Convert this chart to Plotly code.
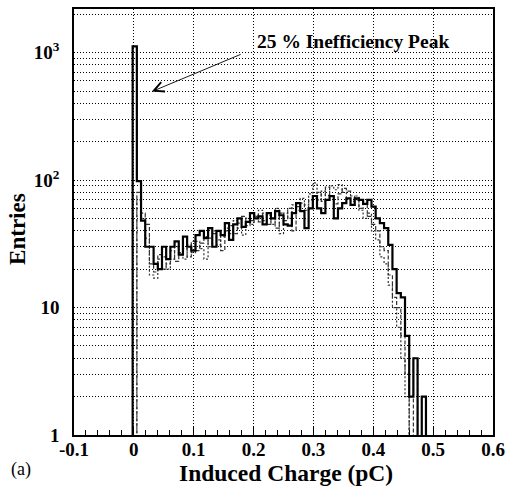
import numpy as np
import plotly.graph_objects as go

# ---- data (bin contents) ----
x_min, x_max, n_bins = -0.1, 0.6, 100
first_bin_solid = 14
solid = [1120, 98, 48, 30, 30, 22, 20, 30, 24, 30, 33, 26, 36, 30, 28, 37, 40, 35, 42, 30,
         40, 37, 46, 34, 45, 50, 43, 47, 55, 50, 52, 45, 55, 50, 57, 53, 45, 44, 55, 66,
         57, 42, 60, 75, 60, 55, 70, 75, 50, 60, 66, 72, 64, 72, 70, 65, 70, 62, 50, 46,
         42, 31, 20, 13, 12, 6, 2, 4, 0, 2]
first_bin_dashed = 15
dashed = [80, 55, 45, 22, 19, 26, 20, 22, 28, 23, 26, 29, 25, 33, 28, 32, 36, 30, 38, 34,
          28, 40, 44, 38, 46, 52, 44, 48, 53, 47, 55, 45, 50, 42, 55, 48, 60, 40, 62, 66,
          58, 70, 72, 80, 68, 88, 74, 65, 78, 86, 82, 75, 70, 60, 65, 52, 45, 40, 30, 28,
          18, 12, 10, 6, 3, 0, 4, 0]
first_bin_dotted = 15
dotted = [70, 50, 35, 18, 17, 24, 25, 20, 24, 30, 27, 24, 31, 27, 33, 29, 24, 35, 40, 31,
          36, 42, 38, 48, 42, 37, 50, 45, 52, 58, 48, 53, 45, 60, 38, 55, 50, 64, 58, 72,
          64, 78, 95, 70, 82, 76, 90, 84, 92, 80, 72, 68, 75, 58, 50, 55, 40, 34, 25, 22,
          15, 10, 7, 4, 2, 0]

x_tick_vals = [-0.1, 0, 0.1, 0.2, 0.3, 0.4, 0.5, 0.6]
x_tick_text = ["-0.1", "0", "0.1", "0.2", "0.3", "0.4", "0.5", "0.6"]
y_major = [1, 10, 100, 1000]
y_major_text = ["1", "10", "10<sup>2</sup>", "10<sup>3</sup>"]

width_bin = (x_max - x_min) / n_bins
FLOOR = 1e-3


def step(first, vals):
    edges = [x_min + width_bin * (first + i) for i in range(len(vals) + 1)]
    ys = [v if v > 0 else FLOOR for v in vals]
    return [edges[0]] + edges, [FLOOR] + ys + [FLOOR]


fig = go.Figure()
for first, vals, dash, w, col in [(first_bin_dotted, dotted, "2px,2px", 1.2, "#333"),
                                  (first_bin_dashed, dashed, "4px,2px", 1.2, "#333"),
                                  (first_bin_solid, solid, "solid", 2.2, "black")]:
    xs, ys = step(first, vals)
    fig.add_trace(go.Scatter(x=xs, y=ys, mode="lines", line=dict(shape="hv", color=col, width=w, dash=dash),
                             showlegend=False, hoverinfo="skip"))

# y tick values incl. minor grid positions
y_vals, y_text = [], []
for dec in [1, 10, 100, 1000]:
    for m in range(1, 10):
        v = dec * m
        if v > 2200:
            break
        y_vals.append(v)
        y_text.append(y_major_text[y_major.index(v)] if v in y_major else "")

font = "Liberation Serif, Times New Roman, serif"
grid_dash = "1px,2px"
fig.update_layout(
    width=512, height=492,
    margin=dict(l=74, r=12, t=7, b=57),
    paper_bgcolor="white", plot_bgcolor="white",
    font=dict(family=font, color="black"),
    xaxis=dict(range=[x_min, x_max], tickvals=x_tick_vals, ticktext=x_tick_text,
               tickfont=dict(size=19, family=font, weight="bold"),
               ticks="inside", ticklen=9, tickcolor="black", ticklabelstandoff=-4,
               minor=dict(dtick=0.02, tick0=0, ticks="inside", ticklen=5, tickcolor="black", showgrid=False),
               showgrid=True, gridcolor="black", griddash=grid_dash, gridwidth=1,
               showline=True, linecolor="black", linewidth=1.5, mirror=True, zeroline=False),
    yaxis=dict(type="log", range=[0, np.log10(2200)], tickvals=y_vals, ticktext=y_text,
               tickfont=dict(size=19, family=font, weight="bold"),
               ticks="outside", ticklen=0, ticklabelstandoff=9, showgrid=True, gridcolor="black",
               griddash=grid_dash, gridwidth=1,
               showline=True, linecolor="black", linewidth=1.5, mirror=True, zeroline=False),
    annotations=[
        dict(x=0.03, y=np.log10(495), ax=0.181, ay=np.log10(980), xref="x", yref="y", axref="x", ayref="y",
             showarrow=True, arrowhead=5, arrowsize=2.2, arrowwidth=0.9, arrowcolor="black", text=""),
        dict(x=0.2026, y=np.log10(1220), xref="x", yref="y", xanchor="left", yanchor="middle",
             text="<b>25 % Inefficiency Peak</b>", showarrow=False, font=dict(size=19.5, family=font)),
        dict(x=(290 - 74) / 426, y=(435 - 473) / 428, xref="paper", yref="paper", xanchor="center", yanchor="middle",
             text="<b>Induced Charge (pC)</b>", showarrow=False, font=dict(size=23.5, family=font)),
        dict(x=(17 - 74) / 426, y=(435 - 228) / 428, xref="paper", yref="paper", xanchor="center", yanchor="middle",
             text="<b>Entries</b>", textangle=-90, showarrow=False, font=dict(size=23, family=font)),
        dict(x=(8 - 74) / 426, y=(435 - 470) / 428, xref="paper", yref="paper", xanchor="left", yanchor="middle",
             text="(a)", showarrow=False, font=dict(size=18, family=font)),
    ],
)

fig.write_html("out.html")
